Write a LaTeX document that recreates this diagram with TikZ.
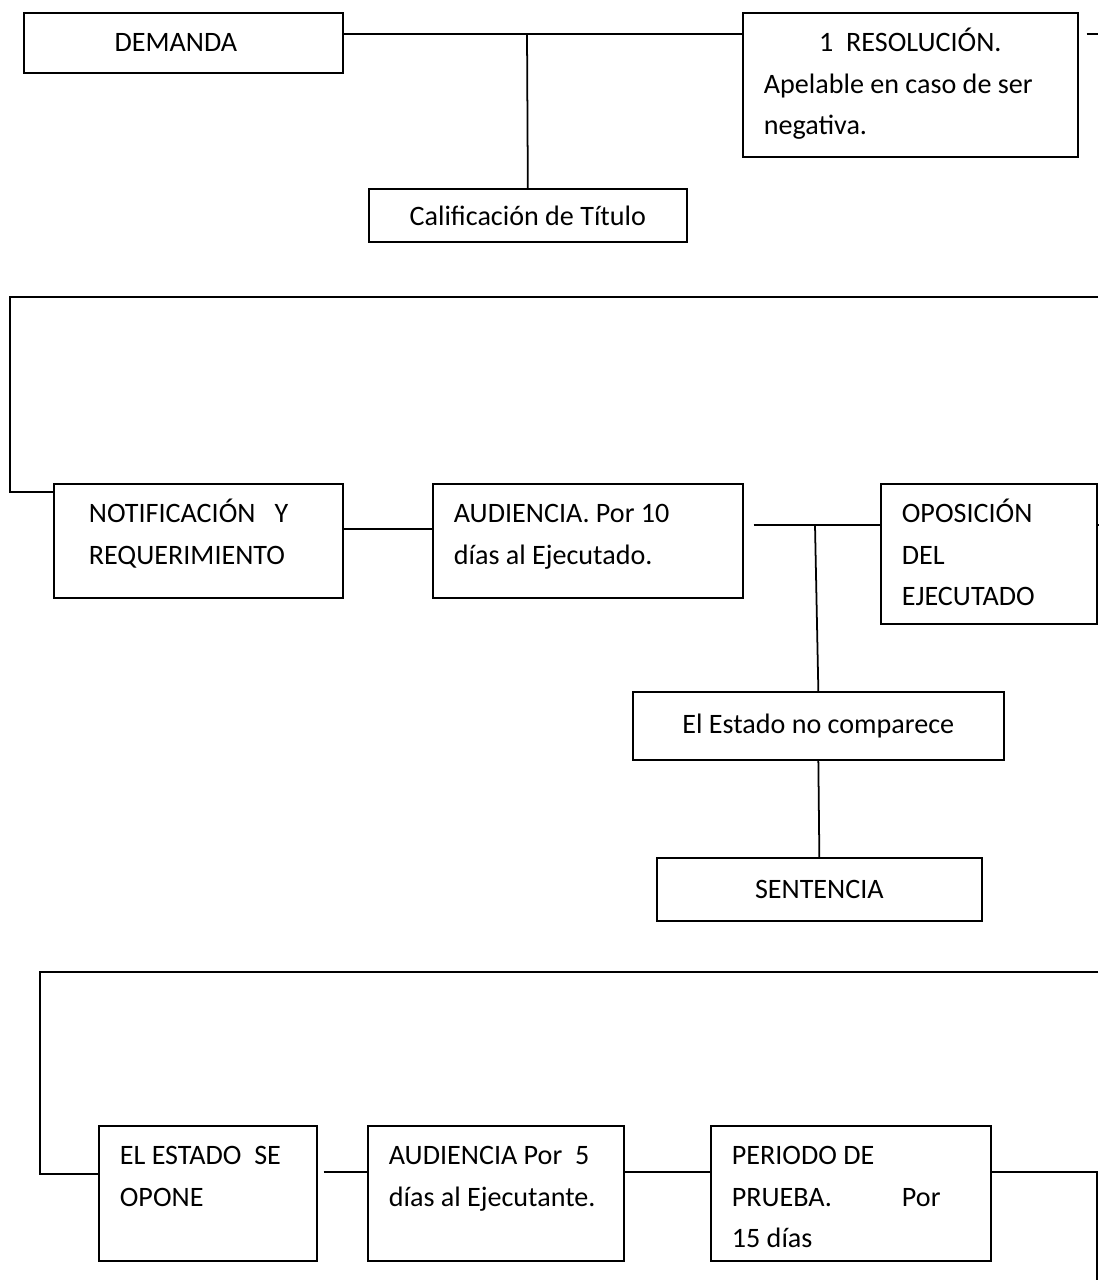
\documentclass[tikz,border=0pt]{standalone}
\usepackage{fontspec}
\setmainfont{Carlito}
\begin{document}
\begin{tikzpicture}[x=0.02cm,y=-0.02cm,line width=1pt,
    font=\fontsize{16}{23.5}\selectfont]
    \tikzstyle{single}=[draw,anchor=north west,inner sep=0pt]
    \tikzstyle{multi}=[draw,anchor=north west,inner ysep=0pt,inner xsep=0.42cm,
                       align=flush left,text height=0.78cm]
    \useasboundingbox (0,0) rectangle (1098,1280);

    \node[single,minimum width=6.38cm,minimum height=1.2cm] (demanda) at (23,12) {DEMANDA\hspace{0.3cm}\mbox{}};
    \node[multi,text width=5.86cm,text depth=2.1cm] (res) at (742,12)
        {{\centering 1\ \ RESOLUCIÓN.\par}Apelable en caso de ser\\negativa.};
    \node[single,minimum width=6.36cm,minimum height=1.06cm] (cal) at (368,188) {Calificación de Título};

    \node[multi,inner xsep=0.7cm,text width=4.38cm,text depth=1.5cm] (notif) at (53,483)
        {NOTIFICACIÓN\ \ \ Y\\REQUERIMIENTO};
    \node[multi,text width=5.36cm,text depth=1.5cm] (aud10) at (432,483)
        {AUDIENCIA. Por 10\\días al Ejecutado.};
    \node[multi,text width=3.48cm,text depth=2.02cm] (opos) at (880,483)
        {OPOSICIÓN\\DEL\\EJECUTADO};
    \node[single,minimum width=7.42cm,minimum height=1.36cm] (est) at (632,691) {El Estado no comparece};
    \node[single,minimum width=6.5cm,minimum height=1.26cm] (sent) at (656,857) {SENTENCIA};

    \node[multi,text width=3.52cm,text depth=1.92cm] (estop) at (98,1125)
        {EL ESTADO\ \ SE\\OPONE};
    \node[multi,text width=4.28cm,text depth=1.92cm] (aud5) at (367,1125)
        {AUDIENCIA Por\ \ 5\\días al Ejecutante.};
    \node[multi,text width=4.76cm,text depth=1.92cm] (per) at (710,1125)
        {PERIODO DE\\PRUEBA.\hspace{1.4cm}Por\\15 días};

    \coordinate (j1) at (527,34);
    \coordinate (e1) at (1098,34);
    \draw (demanda.east |- j1) -- (res.west |- j1);
    \draw (j1) -- (cal.north);
    \draw ([xshift=0.16cm]res.east |- j1) -- (e1);

    \coordinate (t1) at (1098,297);
    \coordinate (t2) at (10,297);
    \coordinate (t3) at (10,492);
    \draw (t1) -- (t2) -- (t3) -- (notif.west |- t3);
    \coordinate (j2) at (0,529);
    \draw (notif.east |- j2) -- (aud10.west |- j2);
    \coordinate (j3) at (815,525);
    \coordinate (e2) at (1098,525);
    \draw ([xshift=0.2cm]aud10.east |- j3) -- (opos.west |- j3);
    \draw (opos.east |- j3) -- (e2);
    \draw (j3) -- (est.north);
    \draw (est.south) -- (sent.north);

    \coordinate (t4) at (1098,972);
    \coordinate (t5) at (40,972);
    \coordinate (t6) at (40,1174);
    \draw (t4) -- (t5) -- (t6) -- (estop.west |- t6);
    \coordinate (j4) at (0,1172);
    \coordinate (e3) at (1097,1172);
    \coordinate (e4) at (1097,1280);
    \draw ([xshift=0.12cm]estop.east |- j4) -- (aud5.west |- j4);
    \draw (aud5.east |- j4) -- (per.west |- j4);
    \draw (per.east |- j4) -- (e3) -- (e4);

\end{tikzpicture}
\end{document}
